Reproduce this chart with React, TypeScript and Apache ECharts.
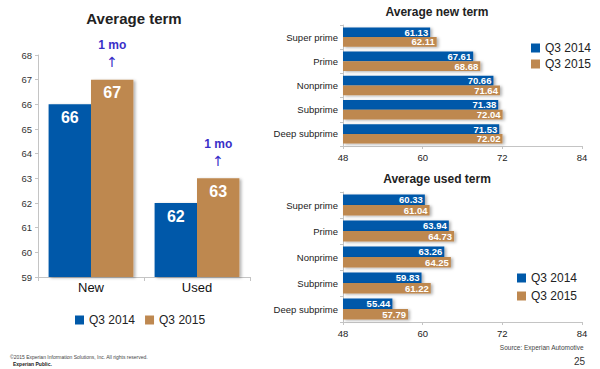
import React, { useEffect, useRef } from "react";
import * as echarts from "echarts";

const leftCategories = ["New", "Used"];
const avgTerm2014 = [66, 62];
const avgTerm2015 = [67, 63];
const changeLabels = ["1 mo", "1 mo"];

const segments = ["Super prime", "Prime", "Nonprime", "Subprime", "Deep subprime"];
const newTerm2014 = [61.13, 67.61, 70.66, 71.38, 71.53];
const newTerm2015 = [62.11, 68.68, 71.64, 72.04, 72.02];
const usedTerm2014 = [60.33, 63.94, 63.26, 59.83, 55.44];
const usedTerm2015 = [61.04, 64.73, 64.25, 61.22, 57.79];

const seriesNames = ["Q3 2014", "Q3 2015"];
const leftAxisRange = { min: 59, max: 68, interval: 1 };
const rightAxisRange = { min: 48, max: 84, interval: 12 };

const BLUE = "#0059A9";
const TAN = "#BE8850";
const FONT = "'Liberation Sans', Arial, sans-serif";

export default function App() {
  const ref = useRef<HTMLDivElement>(null);

  useEffect(() => {
    if (!ref.current) return;
    const chart = echarts.init(ref.current, undefined, { renderer: "svg" });

    const shadow = {
      shadowBlur: 3,
      shadowColor: "rgba(0,0,0,0.3)",
      shadowOffsetX: 2,
      shadowOffsetY: 1,
    };

    const rightXAxis = (gridIndex: number) => ({
      type: "value",
      gridIndex,
      min: rightAxisRange.min,
      max: rightAxisRange.max,
      interval: rightAxisRange.interval,
      axisLine: { show: true, lineStyle: { color: "#c4c4c4" } },
      axisTick: { show: true, length: 3, lineStyle: { color: "#c4c4c4" } },
      splitLine: { show: false },
      axisLabel: { color: "#222", fontSize: 9.5, margin: 6, fontFamily: FONT },
    });
    const rightYAxis = (gridIndex: number) => ({
      type: "category",
      gridIndex,
      data: segments,
      inverse: true,
      axisLine: { show: true, lineStyle: { color: "#c4c4c4" } },
      axisTick: { show: true, length: 3, lineStyle: { color: "#c4c4c4" } },
      axisLabel: { color: "#222", fontSize: 9.5, margin: 5, fontFamily: FONT },
    });

    const hBar = (name: string, data: number[], axisIdx: number, color: string) => ({
      type: "bar",
      name,
      data,
      xAxisIndex: axisIdx,
      yAxisIndex: axisIdx,
      barGap: "0%",
      barCategoryGap: "20%",
      itemStyle: { color, ...shadow },
      label: {
        show: true,
        position: "insideRight",
        distance: 2,
        color: "#fff",
        fontWeight: "bold",
        fontSize: 9.5,
        lineHeight: 8,
        fontFamily: FONT,
        formatter: (p: any) => p.value.toFixed(2),
      },
    });

    const legendBase = {
      data: seriesNames,
      icon: "rect",
      itemWidth: 9,
      itemHeight: 9,
      textStyle: { color: "#222", fontSize: 12, fontFamily: FONT },
      selectedMode: false,
    };

    chart.setOption({
      animation: false,
      textStyle: { fontFamily: FONT },
      title: [
        {
          text: "Average term",
          left: 129,
          top: 6,
          textAlign: "center",
          textStyle: { fontSize: 15, fontWeight: "bold", color: "#222", fontFamily: FONT },
        },
        {
          text: "Average new term",
          left: 432,
          top: 1,
          textAlign: "center",
          textStyle: { fontSize: 12, fontWeight: "bold", color: "#222", fontFamily: FONT },
        },
        {
          text: "Average used term",
          left: 432,
          top: 168,
          textAlign: "center",
          textStyle: { fontSize: 12, fontWeight: "bold", color: "#222", fontFamily: FONT },
        },
      ],
      legend: [
        { ...legendBase, orient: "horizontal", left: 70, top: 309, itemGap: 10 },
        { ...legendBase, orient: "vertical", left: 526, top: 37, itemGap: 4 },
        { ...legendBase, orient: "vertical", left: 512, top: 267, itemGap: 6 },
      ],
      grid: [
        { left: 38, top: 55, width: 212, height: 222 },
        { left: 343, top: 25, width: 239, height: 121 },
        { left: 343, top: 192, width: 239, height: 130 },
      ],
      xAxis: [
        {
          type: "category",
          gridIndex: 0,
          data: leftCategories,
          axisLine: { show: true, lineStyle: { color: "#c4c4c4" } },
          axisTick: { show: true, length: 4, alignWithLabel: false, lineStyle: { color: "#c4c4c4" } },
          axisLabel: { color: "#111", fontSize: 13, margin: 4, fontFamily: FONT },
        },
        rightXAxis(1),
        rightXAxis(2),
      ],
      yAxis: [
        {
          type: "value",
          gridIndex: 0,
          min: leftAxisRange.min,
          max: leftAxisRange.max,
          interval: leftAxisRange.interval,
          axisLine: { show: true, lineStyle: { color: "#c4c4c4" } },
          axisTick: { show: true, length: 3, lineStyle: { color: "#c4c4c4" } },
          splitLine: { show: false },
          axisLabel: { color: "#333", fontSize: 9.5, margin: 6, fontFamily: FONT },
        },
        rightYAxis(1),
        rightYAxis(2),
      ],
      series: [
        {
          type: "bar",
          name: seriesNames[0],
          data: avgTerm2014,
          xAxisIndex: 0,
          yAxisIndex: 0,
          barGap: "0%",
          barCategoryGap: "20%",
          itemStyle: { color: BLUE, ...shadow },
          label: {
            show: true,
            position: "insideTop",
            distance: 5,
            color: "#fff",
            fontWeight: "bold",
            fontSize: 16,
            fontFamily: FONT,
          },
        },
        {
          type: "bar",
          name: seriesNames[1],
          data: avgTerm2015,
          xAxisIndex: 0,
          yAxisIndex: 0,
          barGap: "0%",
          barCategoryGap: "20%",
          itemStyle: { color: TAN, ...shadow },
          label: {
            show: true,
            position: "insideTop",
            distance: 5,
            color: "#fff",
            fontWeight: "bold",
            fontSize: 16,
            fontFamily: FONT,
          },
          markPoint: {
            symbol: "rect",
            symbolSize: 1,
            itemStyle: { color: "rgba(0,0,0,0)" },
            label: {
              show: true,
              position: "top",
              distance: 9,
              formatter: (p: any) => `{a|${p.name}}\n{b|↑}`,
              rich: {
                a: {
                  color: "#3A2FC8",
                  fontSize: 12,
                  fontWeight: "bold",
                  lineHeight: 18,
                  fontFamily: FONT,
                  align: "center",
                },
                b: {
                  color: "#3A2FC8",
                  fontSize: 14,
                  lineHeight: 16,
                  fontFamily: "'DejaVu Sans', sans-serif",
                  align: "center",
                },
              },
            },
            data: leftCategories.map((c, i) => ({
              name: changeLabels[i],
              coord: [c, avgTerm2015[i]],
            })),
          },
        },
        hBar(seriesNames[0], newTerm2014, 1, BLUE),
        hBar(seriesNames[1], newTerm2015, 1, TAN),
        hBar(seriesNames[0], usedTerm2014, 2, BLUE),
        hBar(seriesNames[1], usedTerm2015, 2, TAN),
      ],
      graphic: [
        {
          type: "text",
          left: 10,
          top: 354,
          style: {
            text: "©2015 Experian Information Solutions, Inc. All rights reserved.",
            fill: "#444",
            fontSize: 5,
            fontFamily: FONT,
          },
        },
        {
          type: "text",
          left: 13,
          top: 361,
          style: {
            text: "Experian Public.",
            fill: "#222",
            fontSize: 5,
            fontWeight: "bold",
            fontFamily: FONT,
          },
        },
        {
          type: "text",
          right: 16,
          top: 344,
          style: {
            text: "Source: Experian Automotive",
            fill: "#444",
            fontSize: 6.5,
            fontFamily: FONT,
          },
        },
        {
          type: "text",
          right: 15,
          top: 356,
          style: {
            text: "25",
            fill: "#333",
            fontSize: 10,
            fontFamily: FONT,
          },
        },
      ],
    });

    return () => chart.dispose();
  }, []);

  return (
    <div
      ref={ref}
      style={{ position: "absolute", left: 0, top: 0, width: 600, height: 369, background: "#fff" }}
    />
  );
}
